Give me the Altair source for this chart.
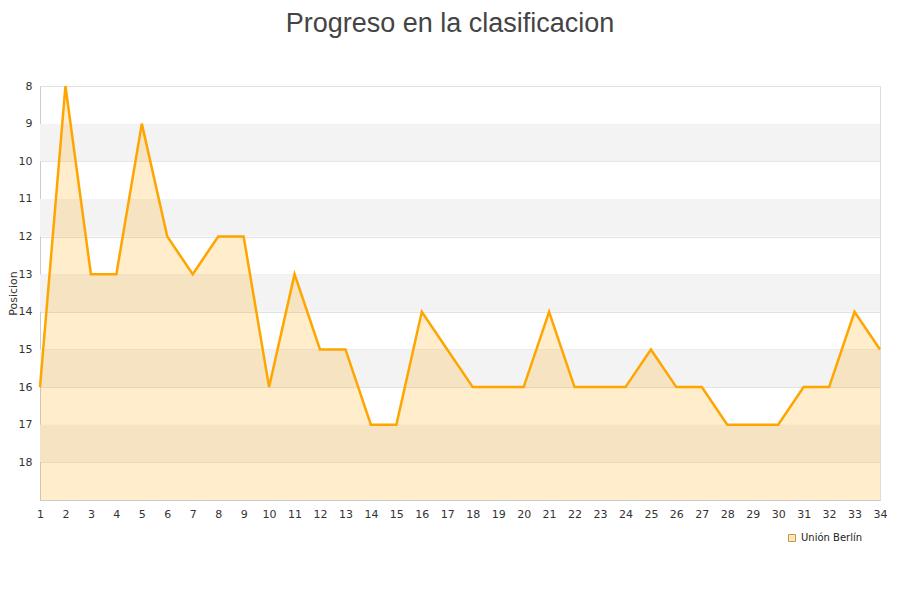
import altair as alt
import pandas as pd

jornadas = list(range(1, 35))
posiciones = [16, 8, 13, 13, 9, 12, 13, 12, 12, 16, 13, 15, 15, 17, 17, 14, 15, 16, 16, 16,
              14, 16, 16, 16, 15, 16, 16, 17, 17, 17, 16, 16, 14, 15]
equipo = "Unión Berlín"
band_starts = [9, 11, 13, 15, 17]
y_ticks = list(range(8, 19))

df = pd.DataFrame({"Jornada": jornadas, "Posicion": posiciones, "Equipo": equipo})
df["Fondo"] = 19
bands = pd.DataFrame({"y": band_starts, "y2": [b + 1 for b in band_starts]})

xs = alt.Scale(domain=[1, 34], nice=False, zero=False)
ys = alt.Scale(domain=[8, 19], reverse=True, nice=False, zero=False)

x_axis = alt.Axis(values=jornadas, title=None, grid=False, ticks=False,
                  domainColor="#cccccc", labelPadding=8, format="d",
                  labelFlush=False, labelOverlap=False, labelBound=False)

band_layer = alt.Chart(bands).mark_rect(color="#f3f3f3").encode(
    x=alt.value(0), x2=alt.value(840),
    y=alt.Y("y:Q", scale=ys,
            axis=alt.Axis(values=y_ticks, title="Posicion", grid=True, gridColor="#e2e2e2",
                          ticks=False, domain=True, domainColor="#cccccc", labelPadding=8,
                          labelFlush=False, labelOverlap=False,
                          titleAngle=270, titleAlign="center",
                          titleBaseline="middle", titleX=-27, titleY=207)),
    y2="y2:Q",
)

area = alt.Chart(df).mark_area(color="#FFA500", opacity=0.2, interpolate="linear").encode(
    x=alt.X("Jornada:Q", scale=xs, axis=x_axis),
    y=alt.Y("Posicion:Q", scale=ys),
    y2="Fondo:Q",
)

line = alt.Chart(df).mark_line(color="#FFA500", strokeWidth=2.5).encode(
    x=alt.X("Jornada:Q", scale=xs, axis=x_axis),
    y=alt.Y("Posicion:Q", scale=ys),
)

legend_layer = alt.Chart(df).mark_point(shape="square", filled=True, opacity=0).encode(
    x=alt.X("Jornada:Q", scale=xs, axis=x_axis),
    y=alt.Y("Posicion:Q", scale=ys),
    fill=alt.Fill("Equipo:N", scale=alt.Scale(range=["#ffe6b8"]),
                  legend=alt.Legend(title=None, orient="none", legendX=747, legendY=447,
                                    symbolType="square", symbolSize=49, symbolOpacity=1,
                                    symbolStrokeColor="#c89a50", symbolStrokeWidth=1,
                                    labelFont="DejaVu Sans", labelFontSize=10,
                                    labelColor="#222222")),
)

chart = alt.layer(band_layer, area, line, legend_layer).properties(
    width=840, height=414,
    autosize=alt.AutoSizeParams(type="none"),
    padding={"left": 32, "top": 78, "right": 12, "bottom": 80},
    title=alt.TitleParams("Progreso en la clasificacion", font="Liberation Sans", fontSize=27,
                          fontWeight="normal", color="#444444", anchor="middle", dx=-10,
                          offset=42),
).configure_view(stroke="#dddddd").configure_axis(
    labelFont="DejaVu Sans", labelFontSize=11, labelColor="#333333",
    titleFont="DejaVu Sans", titleFontSize=11, titleFontWeight="normal", titleColor="#333333",
).configure_axisX(labelOverlap=False, labelFlush=False, labelBound=False)

chart.save("out.html", embed_options={"renderer": "svg", "actions": False})
